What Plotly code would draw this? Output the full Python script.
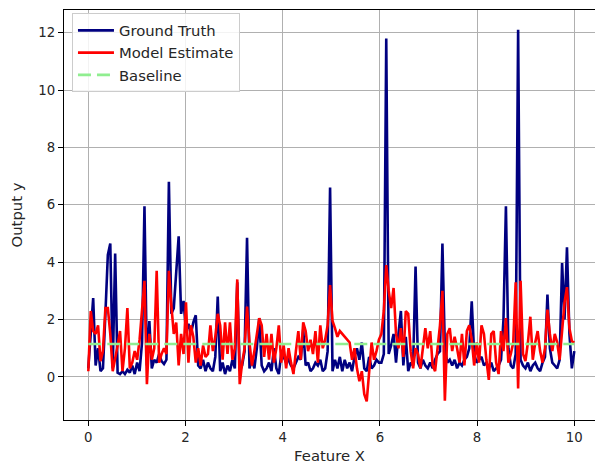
import numpy as np
import plotly.graph_objects as go

# Sample grid for the feature axis
feature_x = np.linspace(0, 10, 200)

ground_truth = [
    0.30, 1.60, 2.75, 0.40, 1.00, 0.20, 0.30, 2.20, 4.25, 4.65,
    0.30, 4.30, 0.15, 0.10, 0.20, 0.10, 0.25, 0.15, 0.40, 0.10,
    0.50, 0.20, 1.20, 5.95, 0.40, 1.95, 0.30, 0.60, 0.50, 0.80,
    0.55, 0.45, 0.60, 6.80, 2.20, 2.40, 3.60, 4.90, 2.20, 2.65,
    1.60, 1.85, 1.50, 1.90, 2.15, 0.40, 0.30, 0.60, 0.20, 0.50,
    0.30, 0.20, 0.70, 2.80, 0.20, 0.50, 0.10, 0.40, 0.20, 0.60,
    0.30, 3.30, 0.20, 0.40, 0.90, 4.85, 0.30, 0.60, 0.30, 1.00,
    2.05, 0.40, 0.20, 0.30, 0.50, 0.20, 1.00, 0.30, 0.10, 0.80,
    0.70, 0.50, 0.60, 0.40, 0.30, 0.50, 0.70, 0.60, 1.65, 0.40,
    0.50, 0.20, 0.30, 0.50, 0.40, 0.60, 0.20, 0.30, 0.90, 6.60,
    0.20, 0.60, 0.30, 0.70, 0.20, 0.60, 0.30, 0.50, 0.20, 0.70,
    1.00, 0.60, 1.20, 0.30, 0.20, 0.70, 0.30, 0.40, 0.60, 0.50,
    0.50, 0.80, 11.80, 0.80, 1.10, 1.50, 0.50, 1.50, 2.30, 0.40,
    1.40, 0.20, 0.50, 0.40, 3.85, 0.50, 0.30, 0.60, 0.40, 0.30,
    0.50, 0.30, 0.60, 0.80, 0.90, 4.65, 1.00, 0.50, 0.60, 0.40,
    0.60, 0.30, 0.50, 0.40, 0.60, 0.70, 1.00, 2.64, 0.80, 0.50,
    0.60, 0.70, 0.40, 0.50, 0.30, 0.50, 0.20, 0.30, 0.40, 0.60,
    2.00, 5.95, 1.00, 0.40, 0.30, 0.80, 12.10, 0.60, 0.40, 0.30,
    0.50, 0.20, 0.40, 0.50, 0.30, 0.20, 0.50, 0.70, 2.87, 1.00,
    0.50, 0.40, 0.30, 0.60, 3.97, 2.00, 4.52, 1.50, 0.30, 0.90,
]

model_estimate = [
    0.20, 2.30, 1.60, 1.50, 1.80, 0.55, 0.90, 2.40, 2.40, 1.50,
    0.20, 0.60, 1.10, 1.60, 0.20, 1.00, 2.40, 0.30, 0.50, 0.90,
    0.60, 1.30, 2.20, 3.35, -0.25, 1.50, 0.60, 1.00, 3.70, 0.50,
    0.80, 1.00, 0.80, 3.70, 2.50, 1.50, 1.90, 0.40, 1.50, 0.80,
    2.60, 0.50, 1.80, 1.40, 0.50, 1.00, 0.40, 1.10, 0.70, 0.80,
    1.80, 0.90, 1.40, 2.20, 1.80, 0.60, 1.90, 0.80, 1.90, 0.60,
    1.00, 3.40, -0.25, 0.50, 1.00, 2.45, 1.20, 0.40, 0.90, 1.50,
    2.05, 1.80, 0.70, 1.50, 0.60, 1.50, 0.50, 1.00, 1.80, 0.50,
    1.10, 0.30, 1.00, 0.50, 0.10, 0.90, 1.60, 0.60, 1.90, 1.60,
    0.90, 1.30, 0.80, 1.60, 0.50, 1.80, 1.00, 1.30, 1.80, 3.20,
    1.95, 1.70, 1.40, 1.60, 1.50, 1.40, 1.30, 1.20, 0.60, 1.00,
    0.30, -0.15, 0.20, -0.60, -0.85, 0.30, 1.20, 0.60, 0.90, 1.30,
    1.50, 2.30, 3.90, 3.00, 2.40, 3.10, 1.50, 1.00, 1.70, 0.70,
    2.30, 2.20, 0.90, 0.30, 1.00, 0.80, 0.30, 1.00, 1.70, 1.00,
    1.60, 0.40, 0.20, 1.00, 1.80, 3.00, -0.83, 1.50, 1.70, 0.90,
    1.40, 1.00, 0.50, 1.50, 0.40, 1.60, 1.80, 1.30, 0.40, 1.20,
    0.50, 1.80, 1.50, 0.60, -0.10, 1.50, 1.60, 0.50, 0.10, 1.60,
    0.90, 2.05, 0.50, 0.80, 1.20, 3.30, -0.40, 3.35, 0.80, 0.55,
    1.20, 2.10, 0.60, 1.20, 1.60, 0.90, 0.50, 1.00, 2.35, 1.50,
    0.90, 1.50, 1.20, 0.60, 1.60, 2.60, 3.13, 1.70, 1.25, 1.20,
]

baseline_value = 1.15
baseline = [baseline_value] * len(feature_x)

x_ticks = [0, 2, 4, 6, 8, 10]
y_ticks = [0, 2, 4, 6, 8, 10, 12]

FONT = "DejaVu Sans"
TICK_SIZE = 13.3
LABEL_SIZE = 14.8

fig = go.Figure()
fig.add_trace(go.Scatter(x=feature_x, y=ground_truth, mode="lines",
                         name="Ground Truth",
                         line=dict(color="#000080", width=2.6)))
fig.add_trace(go.Scatter(x=feature_x, y=model_estimate, mode="lines",
                         name="Model Estimate",
                         line=dict(color="#ff0000", width=2.6)))
fig.add_trace(go.Scatter(x=feature_x, y=baseline, mode="lines",
                         name="Baseline",
                         line=dict(color="#90ee90", width=2.6, dash="13px,6px")))

fig.update_layout(
    width=595, height=469,
    margin=dict(l=64, r=0, t=10, b=49),
    paper_bgcolor="white", plot_bgcolor="white",
    font=dict(family=FONT, size=TICK_SIZE, color="#262626"),
    showlegend=True,
    legend=dict(x=0.015, y=0.992, xanchor="left", yanchor="top",
                bgcolor="rgba(255,255,255,0.85)", bordercolor="#cccccc",
                borderwidth=1, itemwidth=36,
                font=dict(family=FONT, size=LABEL_SIZE, color="#262626"),
                tracegroupgap=0),
)

fig.update_xaxes(
    range=[-0.5, -0.5 + 531 / 48.6],
    tickvals=x_ticks, ticktext=[str(v) for v in x_ticks],
    tickfont=dict(family=FONT, size=TICK_SIZE),
    showgrid=True, gridcolor="#b0b0b0", gridwidth=1,
    showline=True, linecolor="black", linewidth=1.2, mirror=True,
    ticks="outside", ticklen=5, tickcolor="black", tickwidth=1,
    zeroline=False,
    title=dict(text="Feature X", standoff=6,
               font=dict(family=FONT, size=LABEL_SIZE)),
)
fig.update_yaxes(
    range=[-1.5, 12.79],
    tickvals=y_ticks, ticktext=[str(v) for v in y_ticks],
    tickfont=dict(family=FONT, size=TICK_SIZE),
    showgrid=True, gridcolor="#b0b0b0", gridwidth=1,
    showline=True, linecolor="black", linewidth=1.2, mirror=False,
    ticks="outside", ticklen=5, tickcolor="black", tickwidth=1,
    zeroline=False,
    title=dict(text="Output y", standoff=12,
               font=dict(family=FONT, size=LABEL_SIZE)),
)

fig.write_html("out.html")
